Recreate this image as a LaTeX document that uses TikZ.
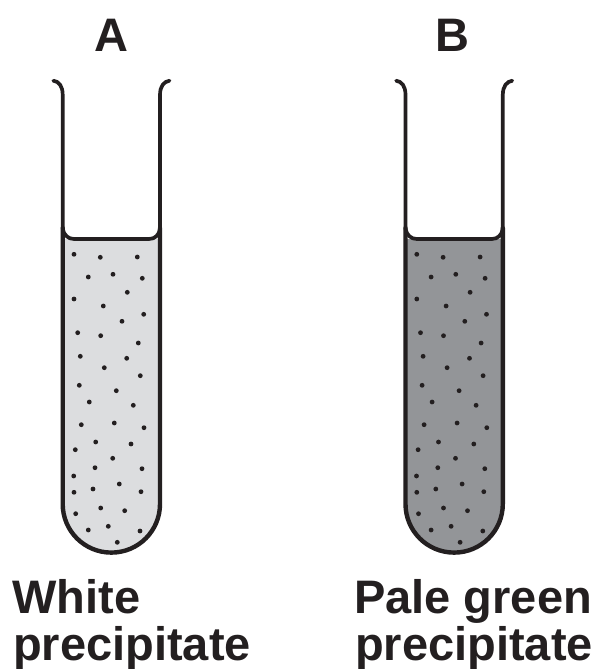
\documentclass[tikz,border=0pt]{standalone}
\usepackage{fontspec}
\setmainfont{Liberation Sans}
\definecolor{ink}{HTML}{231F20}
\definecolor{paleliq}{HTML}{DCDDDF}
\definecolor{darkliq}{HTML}{939598}
\newcommand{\tube}[2]{%
  \begin{scope}[xshift=#1pt]
    \fill[#2] (62.7,239) -- (62.7,504) .. controls (62.7,530.9) and (84.4,552.6) .. (111.35,552.6) .. controls (138.3,552.6) and (160,530.9) .. (160,504) -- (160,239) -- cycle;
    \foreach \px/\py in {74/254.3,100.3/257.3,137.3/257,88.3/277,113/274.3,142.3/278.3,127.3/292.3,74/299,103.3/306,143.7/314.3,122/321.3,77.7/332.7,100.7/335.7,138.3/343,80.3/356.3,126.7/358.3,104.3/367.7,140.3/375.7,79.3/385.3,116.3/390.7,89.3/402,133.3/405.3,81.3/424.7,114.3/423,144/427.7,95.7/442,131/444,75.3/449.7,112.7/458.3,95/467.7,142/468.7,73.7/476,119.3/484,93/489,74/492.3,141/491.7,100.7/508,124.7/510.7,75.7/513.7,88.3/530,108.3/526.3,140/531,117.3/542.3}
      \fill[ink] (\px,\py) circle (2.4);
    % upper walls with lips
    \draw[tubewall] (53.3,80.7) .. controls (59,81.5) and (62.7,86) .. (62.7,95) -- (62.7,229);
    \draw[tubewall] (169.5,80.7) .. controls (164,81.5) and (160,86) .. (160,95) -- (160,229);
    % liquid surface
    \draw[tubewall] (62.7,229) .. controls (64,235) and (68,239) .. (74,239) -- (149,239) .. controls (155,239) and (159,235) .. (160,229);
    % lower walls and rounded bottom
    \draw[tubewall,line width=4.4pt] (62.7,228) -- (62.7,504) .. controls (62.7,530.9) and (84.4,552.6) .. (111.35,552.6) .. controls (138.3,552.6) and (160,530.9) .. (160,504) -- (160,228);
  \end{scope}}
\tikzset{
  tubewall/.style={ink,line width=3.7pt,line cap=round,line join=round},
  letterlab/.style={inner sep=0pt,font=\fontsize{47}{47}\selectfont\bfseries,text=ink,anchor=base},
  caplab/.style={inner sep=0pt,font=\fontsize{47}{47}\selectfont\bfseries,text=ink,anchor=base west}
}
\begin{document}
\begin{tikzpicture}[x=1pt,y=-1pt]
\useasboundingbox (0,0) rectangle (598,669);
\tube{0}{paleliq}
\tube{342.8}{darkliq}
\node[letterlab] (a) at (111,52) {A};
\node[letterlab] (b) at (452,52) {B};
\node[caplab] (w) at (12,613) {White};
\node[caplab] (wp) at (13,660) {precipitate};
\node[caplab] (g) at (354,613) {Pale green};
\node[caplab] (gp) at (355,660) {precipitate};
\end{tikzpicture}
\end{document}
